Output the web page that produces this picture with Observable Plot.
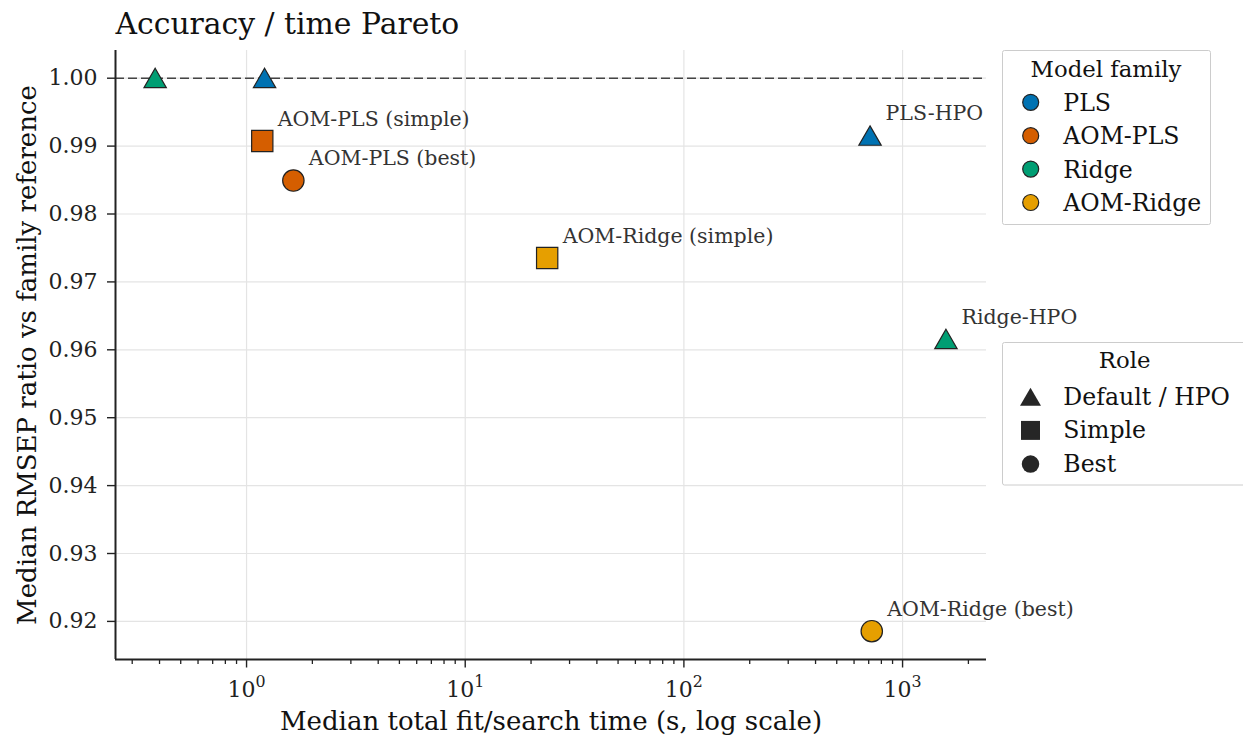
<!DOCTYPE html>
<html>
<head>
<meta charset="utf-8">
<script src="https://cdn.jsdelivr.net/npm/d3@7"></script>
<script src="https://cdn.jsdelivr.net/npm/@observablehq/plot@0.6"></script>
<style>
  html, body { margin: 0; padding: 0; background: #ffffff; }
  #chart svg { display: block; }
</style>
</head>
<body>
<div id="chart"></div>
<script>
// Median accuracy ratio vs. median fit/search time for each model variant
const models   = ["Ridge", "PLS", "AOM-PLS (simple)", "AOM-PLS (best)", "AOM-Ridge (simple)", "PLS-HPO", "Ridge-HPO", "AOM-Ridge (best)"];
const families = ["Ridge", "PLS", "AOM-PLS", "AOM-PLS", "AOM-Ridge", "PLS", "Ridge", "AOM-Ridge"];
const roles    = ["Default / HPO", "Default / HPO", "Simple", "Best", "Simple", "Default / HPO", "Default / HPO", "Best"];
const times    = [0.382, 1.209, 1.180, 1.637, 23.7, 710, 1579, 723];
const ratios   = [1.000, 1.000, 0.99075, 0.98493, 0.97352, 0.99152, 0.96156, 0.91856];
const labelled = [false, false, true, true, true, true, true, true];

// Legend entries
const familyOrder  = ["PLS", "AOM-PLS", "Ridge", "AOM-Ridge"];
const familyColors = ["#0072B2", "#D55E00", "#009E73", "#E69F00"];
const roleOrder    = ["Default / HPO", "Simple", "Best"];
const roleSymbols  = ["triangle", "square", "circle"];

// Axis ticks (decade labels are written as base + exponent)
const xMajorTicks = [1, 10, 100, 1000];
const xTickExponents = ["0", "1", "2", "3"];
const yTicks = [0.92, 0.93, 0.94, 0.95, 0.96, 0.97, 0.98, 0.99, 1.00];
const referenceRatio = [1.0];

const xDomain = [0.2516, 2420];
const yDomain = [0.91439, 1.00408];

const xMinorTicks = [];
for (const e of [-1, 0, 1, 2, 3]) {
  for (let m = 2; m <= 9; m++) {
    const v = m * Math.pow(10, e);
    if (v >= xDomain[0] && v <= xDomain[1]) xMinorTicks.push(v);
  }
}

const rows = models.map((name, i) => ({
  name, family: families[i], role: roles[i], time: times[i], ratio: ratios[i], labelled: labelled[i]
}));

const FONT = "DejaVu Serif";
const EDGE = "#222222";

const width = 1243, height = 737;
const marginLeft = 115, marginRight = 257, marginTop = 50, marginBottom = 78;

const chart = Plot.plot({
  width, height, marginLeft, marginRight, marginTop, marginBottom,
  style: { fontFamily: FONT, background: "#ffffff", color: "#222222" },
  x: { type: "log", domain: xDomain },
  y: { domain: yDomain },
  color: { domain: familyOrder, range: familyColors },
  marks: [
    Plot.gridX(xMajorTicks, { stroke: "#e4e4e4", strokeOpacity: 1, strokeWidth: 1.2 }),
    Plot.gridY(yTicks, { stroke: "#e4e4e4", strokeOpacity: 1, strokeWidth: 1.2 }),
    Plot.ruleY(referenceRatio, { stroke: "#444444", strokeWidth: 1.5, strokeDasharray: "9,4" }),
    // spines
    Plot.ruleX([xDomain[0]], { stroke: "#222222", strokeWidth: 2 }),
    Plot.ruleY([yDomain[0]], { stroke: "#222222", strokeWidth: 2 }),
    // axes
    Plot.axisX(xMinorTicks, { tickSize: 5, tickFormat: () => "", stroke: "#222222", strokeWidth: 1.3, label: null }),
    Plot.axisX(xMajorTicks, {
      tickSize: 8.5, tickPadding: 13.5, fontSize: 22, stroke: "#222222", strokeWidth: 1.4,
      tickFormat: d => "10^" + xTickExponents[xMajorTicks.indexOf(d)], label: null,
      className: "decade-axis"
    }),
    Plot.axisY(yTicks, {
      tickSize: 8, tickPadding: 10, fontSize: 22, stroke: "#222222", strokeWidth: 1.4,
      tickFormat: d3.format(".2f"), label: null
    }),
    // points, one mark per role
    Plot.dot(rows.filter(d => d.role === "Default / HPO"), {
      x: "time", y: "ratio", fill: "family", symbol: "triangle", r: 8.3, dy: 3,
      stroke: EDGE, strokeWidth: 1.2
    }),
    Plot.dot(rows.filter(d => d.role === "Simple"), {
      x: "time", y: "ratio", fill: "family", symbol: "square", r: 12.0,
      stroke: EDGE, strokeWidth: 1.2
    }),
    Plot.dot(rows.filter(d => d.role === "Best"), {
      x: "time", y: "ratio", fill: "family", symbol: "circle", r: 10.7,
      stroke: EDGE, strokeWidth: 1.2
    }),
    // point labels
    Plot.text(rows.filter(d => d.labelled), {
      x: "time", y: "ratio", text: "name", dx: 15.5, dy: -15.5,
      textAnchor: "start", lineAnchor: "bottom", fontSize: 20.5, fill: "#333333"
    }),
    // title and axis labels
    Plot.text(["Accuracy / time Pareto"], {
      frameAnchor: "top-left", dy: -16.7, textAnchor: "start", lineAnchor: "bottom",
      fontSize: 29.8, fill: "#111111"
    }),
    Plot.text(["Median total fit/search time (s, log scale)"], {
      frameAnchor: "bottom", dy: 70, textAnchor: "middle", lineAnchor: "bottom", fontSize: 26, fill: "#111111"
    }),
    Plot.text(["Median RMSEP ratio vs family reference"], {
      frameAnchor: "left", dx: -80, rotate: -90, textAnchor: "middle", lineAnchor: "bottom",
      fontSize: 26, fill: "#111111"
    })
  ]
});

document.getElementById("chart").appendChild(chart);

const svg = d3.select(chart);

// Decade tick labels: base "10" with a raised exponent
svg.selectAll("text").each(function () {
  const node = d3.select(this);
  const raw = this.textContent;
  const m = /^10\^(\d+)$/.exec(raw);
  if (!m) return;
  node.text(null);
  node.append("tspan").text("10");
  node.append("tspan").attr("font-size", "0.72em").attr("dy", "-0.62em").text(m[1]);
});

// Legends drawn into the right margin
const symbolOf = { triangle: d3.symbolTriangle, square: d3.symbolSquare, circle: d3.symbolCircle };

function legendBox(g, x, y, w, h) {
  g.append("rect")
    .attr("x", x).attr("y", y).attr("width", w).attr("height", h)
    .attr("rx", 2).attr("fill", "#ffffff").attr("fill-opacity", 0.9)
    .attr("stroke", "#cccccc").attr("stroke-width", 1);
}

// Model family legend
{
  const g = svg.append("g").attr("font-family", FONT).attr("text-anchor", "start");
  legendBox(g, 1002.5, 50.5, 208, 174);
  g.append("text").attr("x", 1106).attr("y", 77.3).attr("text-anchor", "middle")
    .attr("font-size", 22.8).attr("fill", "#111111").text("Model family");
  familyOrder.forEach((f, i) => {
    const cy = 102.3 + i * 33.4;
    g.append("circle").attr("cx", 1030.7).attr("cy", cy).attr("r", 8.0)
      .attr("fill", familyColors[i]).attr("stroke", EDGE).attr("stroke-width", 1.2);
    g.append("text").attr("x", 1063.3).attr("y", cy + 8.4).attr("text-anchor", "start")
      .attr("font-size", 23.6).attr("fill", "#111111").text(f);
  });
}

// Role legend
{
  const g = svg.append("g").attr("font-family", FONT).attr("text-anchor", "start");
  legendBox(g, 1002.5, 342.5, 260, 142.5);
  g.append("text").attr("x", 1124.7).attr("y", 368.3).attr("text-anchor", "middle")
    .attr("font-size", 22.8).attr("fill", "#111111").text("Role");
  const sizes = { triangle: 190, square: 360, circle: 240 };
  roleOrder.forEach((r, i) => {
    const cy = 396.7 + i * 33.7;
    const sym = roleSymbols[i];
    const shift = sym === "triangle" ? Math.sqrt(sizes.triangle / (Math.sqrt(3) * 3)) / 2 : 0;
    g.append("path")
      .attr("transform", `translate(1030.5,${cy + shift})`)
      .attr("d", d3.symbol(symbolOf[sym], sizes[sym])())
      .attr("fill", "#262626");
    g.append("text").attr("x", 1063.3).attr("y", cy + 8).attr("text-anchor", "start")
      .attr("font-size", 23.6).attr("fill", "#111111").text(r);
  });
}
</script>
</body>
</html>
